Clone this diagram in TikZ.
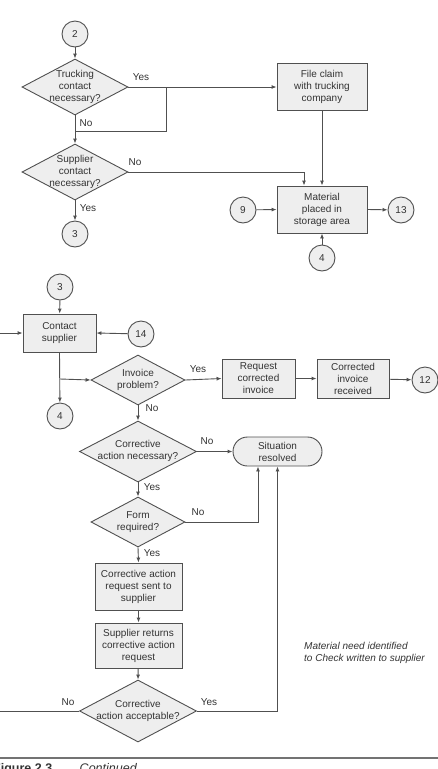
\documentclass[tikz,border=0pt]{standalone}
\usepackage{fontspec}
\setmainfont{Liberation Sans}
\usetikzlibrary{shapes.geometric,arrows.meta}
\definecolor{ln}{HTML}{505050}
\definecolor{fl}{HTML}{EEEEEE}
\definecolor{tx}{HTML}{333333}
\newcommand{\dtxt}[1]{\makebox[0pt][c]{\raisebox{-2.5pt}[0pt][0pt]{\begin{tabular}{@{}c@{}}#1\end{tabular}}}}
\begin{document}
\begin{tikzpicture}[x=1pt,y=-1pt,
  every node/.style={text=tx,font=\fontsize{10}{12}\selectfont},
  box/.style={draw=ln,fill=fl,line width=0.9pt,rectangle,inner sep=0pt,align=center,minimum width=#1,minimum height=47},
  box/.default=90,
  dia/.style={draw=ln,fill=fl,line width=0.9pt,diamond,inner sep=0pt,minimum width=106,minimum height=56},
  conn/.style={draw=ln,fill=fl,line width=0.9pt,circle,inner sep=0pt,minimum size=26},
  lab/.style={inner sep=0pt},
  arr/.style={draw=ln,line width=0.9pt,-{Latex[length=5pt,width=4pt]}},
  ln/.style={draw=ln,line width=0.9pt}]
\useasboundingbox (0,0) rectangle (438,769);
\clip (0,0) rectangle (438,769);
% top part
\node[conn] (c2) at (75,34) {2};
\node[dia] (d1) at (75,87) {\dtxt{Trucking\\contact\\necessary?}};
\node[dia] (d2) at (75,172) {\dtxt{Supplier\\contact\\necessary?}};
\node[conn] (c3a) at (75,234) {3};
\node[box] (fc) at (322,87) {File claim\\with trucking\\company};
\node[box] (mat) at (322,209.5) {Material\\placed in\\storage area};
\node[conn] (c9) at (243,210) {9};
\node[conn] (c13) at (401,210) {13};
\node[conn] (c4a) at (322,258) {4};
\coordinate (j1) at (166,87);
\coordinate (j2) at (166,131);
\coordinate (j3) at (75,131);
\node[lab] (l1) at (141,77) {Yes};
\node[lab] (l2) at (86,123) {No};
\node[lab] (l3) at (135,162) {No};
\node[lab] (l4) at (88,208) {Yes};
\draw[arr] (c2) -- (d1);
\draw[arr] (d1.east) -- (fc.west);
\draw[ln] (j1) -- (j2) -- (j3);
\draw[arr] (d1.south) -- (d2.north);
\draw[arr] (d2.east) -| ([xshift=-18pt]mat.north);
\draw[arr] (d2.south) -- (c3a);
\draw[arr] (fc.south) -- (mat.north);
\draw[arr] (c9) -- (mat.west);
\draw[arr] (mat.east) -- (c13);
\draw[arr] (c4a) -- (mat.south);
% lower part
\node[conn] (c3b) at (60,287) {3};
\node[box=73,minimum height=38] (cs) at (59.5,333) {Contact\\supplier};
\node[conn] (c14) at (141,334) {14};
\node[conn] (c4b) at (60,416) {4};
\node[dia,minimum width=94,minimum height=50] (inv) at (138,380) {\dtxt{Invoice\\problem?}};
\node[box=73,minimum height=39] (req) at (258.5,378.5) {Request\\corrected\\invoice};
\node[box=72,minimum height=39] (cor) at (353,378.5) {Corrected\\invoice\\received};
\node[conn] (c12) at (425,380) {12};
\node[dia,minimum width=117,minimum height=61] (can) at (138,451.5) {\dtxt{Corrective\\action necessary?}};
\node[draw=ln,fill=fl,line width=0.9pt,rectangle,rounded corners=14.5pt,minimum width=89,minimum height=29,inner sep=0pt,align=center] (sr) at (277.5,451.5) {Situation\\resolved};
\node[dia,minimum width=94,minimum height=50] (frm) at (138,522) {\dtxt{Form\\required?}};
\node[box=87] (car) at (138.5,586.5) {Corrective action\\request sent to\\supplier};
\node[box=87,minimum height=45] (srt) at (138.5,645.5) {Supplier returns\\corrective action\\request};
\node[dia,minimum width=117,minimum height=62] (acc) at (138,711) {\dtxt{Corrective\\action acceptable?}};
\node[lab] (l5) at (198,369) {Yes};
\node[lab] (l6) at (152,408) {No};
\node[lab] (l7) at (207,441) {No};
\node[lab] (l8) at (152,487) {Yes};
\node[lab] (l9) at (198,512) {No};
\node[lab] (l10) at (152,553) {Yes};
\node[lab] (l11) at (68,702) {No};
\node[lab] (l12) at (209,702) {Yes};
\node[lab,anchor=west,align=left,font=\fontsize{10}{12}\selectfont\itshape] (note) at (304,653) {Material need identified\\to Check written to supplier};
\coordinate (b1) at (60,379);
\draw[arr] (c3b) -- (cs);
\draw[arr] (c14) -- (cs.east);
\draw[arr] (cs.south) -- (c4b);
\draw[arr] (b1) -- (inv.west);
\draw[arr] (inv.east) -- (req.west);
\draw[arr] (req) -- (cor);
\draw[arr] (cor) -- (c12);
\draw[arr] (inv.south) -- (can.north);
\draw[arr] (can.east) -- (sr.west);
\draw[arr] (can.south) -- (frm.north);
\draw[arr] (frm.east) -| ([xshift=-19.5pt]sr.south);
\draw[arr] (frm.south) -- (car.north);
\draw[arr] (car) -- (srt);
\draw[arr] (srt) -- (acc.north);
\draw[arr] (acc.east) -| (sr.south);
\draw[arr] (acc.west) -- (-6,711) |- (cs.west);
% caption
\coordinate (r1) at (0,758);
\coordinate (r2) at (438,758);
\draw[draw=ln!80,line width=1.6pt] (r1) -- (r2);
\node[lab,anchor=base west,font=\fontsize{12.5}{14}\selectfont] (cap) at (-7,772) {\textbf{Figure 2.3}\hspace{2.2em}\textit{Continued}};
\end{tikzpicture}
\end{document}
